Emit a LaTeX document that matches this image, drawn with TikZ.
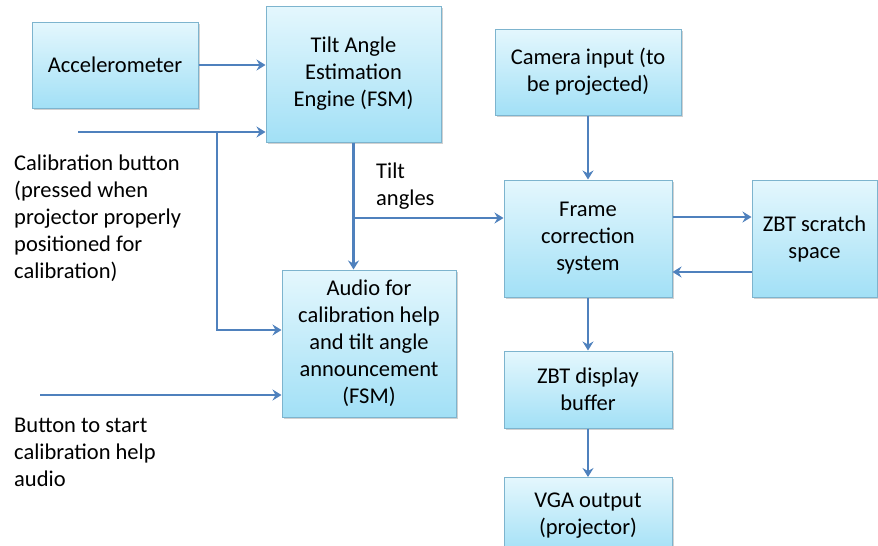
\documentclass[tikz,border=0pt]{standalone}
\usepackage{fontspec}
\setmainfont{Carlito}
\usepackage{tikz}
\usetikzlibrary{arrows.meta, shadows}
\definecolor{boxtop}{RGB}{228, 247, 253}
\definecolor{boxbot}{RGB}{162, 224, 246}
\definecolor{boxline}{RGB}{125, 180, 206}
\definecolor{flowblue}{RGB}{79, 129, 189}

\tikzset{
  block/.style={draw=boxline, line width=1pt, top color=boxtop, bottom color=boxbot,
    align=center, inner sep=0pt,
    drop shadow={shadow xshift=1.5pt, shadow yshift=-1.5pt, fill=black, opacity=0.18}},
  flow/.style={flowblue, line width=2.5pt, -{Stealth[length=9pt, width=11pt, inset=3pt]}},
  note/.style={anchor=north west, align=left, inner sep=0pt},
}

\begin{document}
\begin{tikzpicture}[x=1pt, y=-1pt, font=\fontsize{22.5pt}{27pt}\selectfont]
  \useasboundingbox (0,0) rectangle (878,546);
  \clip (0,0) rectangle (878,546);

  \node[block, minimum width=166pt, minimum height=86pt] (acc) at (115,65) {Accelerometer};
  \node[block, minimum width=175pt, minimum height=136pt] (tilt) at (353.5,74) {Tilt Angle\\Estimation\\Engine (FSM)};
  \node[block, minimum width=186pt, minimum height=86pt] (cam) at (588,72) {Camera input (to\\be projected)};
  \node[block, minimum width=168pt, minimum height=117pt] (frame) at (588,238.5) {Frame\\correction\\system};
  \node[block, minimum width=125pt, minimum height=117pt] (scratch) at (814.5,238.5) {ZBT scratch\\space};
  \node[block, minimum width=174pt, minimum height=147pt] (audio) at (369,343.5) {Audio for\\calibration help\\and tilt angle\\announcement\\(FSM)};
  \node[block, minimum width=168pt, minimum height=77pt] (disp) at (588,389.5) {ZBT display\\buffer};
  \node[block, minimum width=168pt, minimum height=77pt] (vga) at (588,516) {VGA output\\(projector)};

  \node[note] (calnote) at (14,155) {Calibration button\\(pressed when\\projector properly\\positioned for\\calibration)};
  \node[note] (btnnote) at (14,418) {Button to start\\calibration help\\audio};
  \node[note] (tiltlbl) at (376,163) {Tilt\\angles};

  \coordinate (calin) at (78,132);
  \coordinate (calj) at (217,132);
  \coordinate (btnin) at (40,395);
  \coordinate (calaud) at ([yshift=13.5pt]audio.west);
  \coordinate (fin) at ([yshift=20.5pt]frame.west);
  \coordinate (fs1) at ([yshift=21.5pt]frame.east);
  \coordinate (fs2) at ([yshift=-33.5pt]scratch.west);

  \draw[flow] (acc.east) -- (acc.east -| tilt.west);
  \draw[flow] (calin) -- (calin -| tilt.west);
  \draw[flow] (calj) |- (calaud);
  \draw[flow] (tilt.south) -- (tilt.south |- audio.north);
  \draw[flow] (fin -| tilt.south) -- (fin);
  \draw[flow] (btnin) -- (btnin -| audio.west);
  \draw[flow] (cam.south) -- (frame.north);
  \draw[flow] (fs1) -- (fs1 -| scratch.west);
  \draw[flow] (fs2) -- (fs2 -| frame.east);
  \draw[flow] (frame.south) -- (disp.north);
  \draw[flow] (disp.south) -- (vga.north);
\end{tikzpicture}
\end{document}
